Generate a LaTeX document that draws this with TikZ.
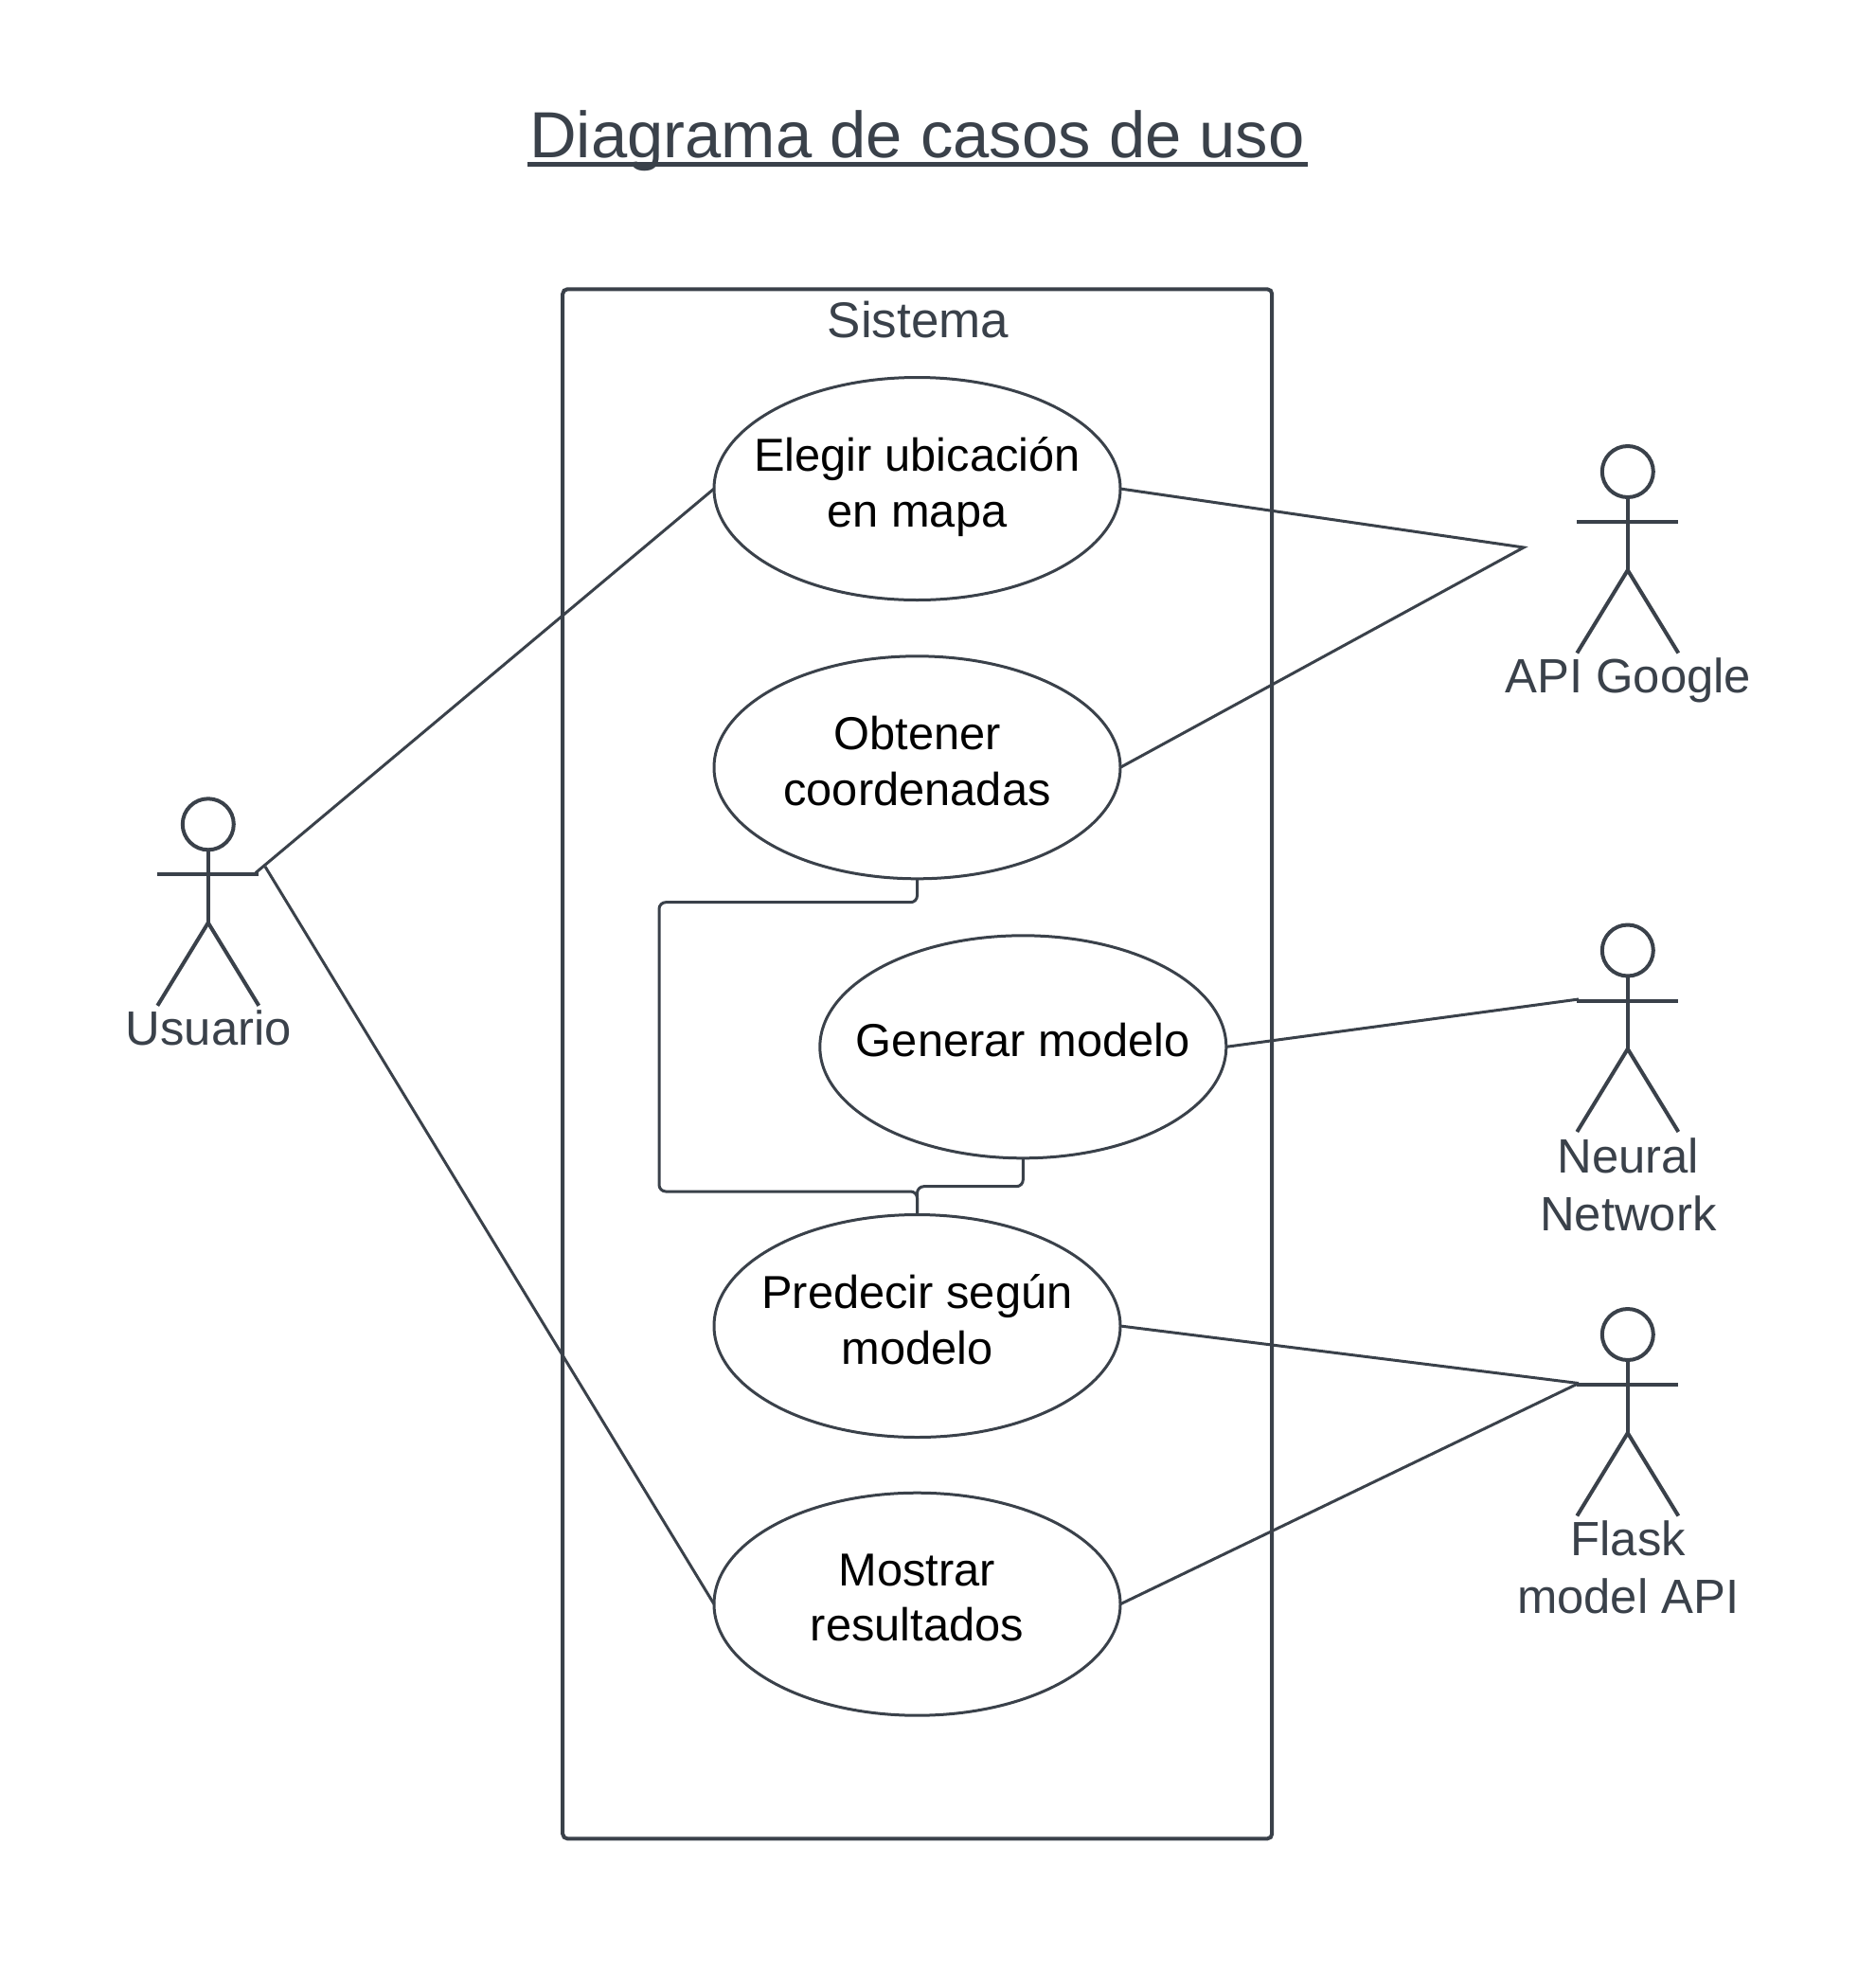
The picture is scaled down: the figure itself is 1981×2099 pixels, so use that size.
\documentclass[tikz,border=0pt]{standalone}
\usepackage{fontspec}
\setmainfont{Liberation Sans}
\usetikzlibrary{shapes.geometric}
\definecolor{ink}{HTML}{3A414A}
\newcommand{\fsz}[2]{\fontsize{#1pt}{#2pt}\selectfont}
\newcommand{\lowstrut}{\rule[-14pt]{0pt}{14pt}}
\tikzset{
  usecase/.style={ellipse,draw=ink,line width=3pt,minimum width=429pt,minimum height=235pt,
    inner sep=-60pt,outer sep=0pt,align=center,text=black,font=\fsz{48.8}{58.8}},
  systembox/.style={rectangle,draw=ink,line width=4pt,minimum width=749pt,minimum height=1636pt,
    rounded corners=5pt,inner sep=0pt,outer sep=0pt},
  link/.style={draw=ink,line width=3pt},
  elbow/.style={draw=ink,line width=3pt,rounded corners=7pt},
  limb/.style={draw=ink,line width=4pt},
  actorhead/.style={circle,draw=ink,line width=4pt,minimum size=54pt,inner sep=0pt,outer sep=0pt},
  actorlabel/.style={text=ink,font=\fsz{50.8}{61},align=center,anchor=base,inner sep=0pt},
  titletext/.style={text=ink,font=\fsz{68.8}{80},anchor=base,inner sep=0pt},
  systemtext/.style={text=ink,font=\fsz{53}{60},anchor=base,inner sep=0pt},
}
% #1 name, #2 x of the body, #3 y of the arms
\newcommand{\stickman}[3]{%
  \node[actorhead] (#1) at (#2,#3-53) {};
  \coordinate (#1armL) at (#2-53.5,#3);
  \coordinate (#1armR) at (#2+53.5,#3);
  \coordinate (#1hip) at (#2,#3+51);
  \coordinate (#1footL) at (#2-53.5,#3+138.5);
  \coordinate (#1footR) at (#2+53.5,#3+138.5);
  \draw[limb] (#1.south) -- (#1hip);
  \draw[limb] (#1armL) -- (#1armR);
  \draw[limb] (#1footL) -- (#1hip) -- (#1footR);
}
\begin{document}
\begin{tikzpicture}[x=1pt,y=-1pt]
\useasboundingbox (0,0) rectangle (1981,2099);
% title
\node[titletext] (title) at (968.5,166) {Diagrama de casos de uso};
\coordinate (ulL) at (556.5,173);
\coordinate (ulR) at (1380.5,173);
\draw[draw=ink,line width=5pt] (ulL) -- (ulR);
% system
\node[systembox] (system) at (968.7,1123.3) {};
\node[systemtext] (systemlabel) at (969.5,356) {Sistema};
% use cases
\node[usecase] (elegir) at (968.5,516) {Elegir ubicación\\en mapa\lowstrut};
\node[usecase] (obtener) at (968.5,810.3) {Obtener\\coordenadas\lowstrut};
\node[usecase] (generar) at (1080.3,1105.3) {Generar modelo\lowstrut};
\node[usecase] (predecir) at (968.5,1400) {Predecir según\\modelo\lowstrut};
\node[usecase] (mostrar) at (968.5,1693.7) {Mostrar\\resultados\lowstrut};
% actors
\stickman{usuario}{219.8}{923.3}
\stickman{google}{1718.8}{551}
\stickman{neural}{1718.8}{1056.5}
\stickman{flask}{1718.8}{1462}
\node[actorlabel] (usuariolabel) at (220.3,1103.7) {Usuario};
\node[actorlabel] (googlelabel) at (1719.3,731) {API Google};
\node[actorlabel] (neurallabel) at (1719.3,1299) {Neural\\Network};
\node[actorlabel] (flasklabel) at (1719.3,1703.7) {Flask\\model API};
% connectors
\coordinate (usuarioUp) at (270,921.5);
\coordinate (usuarioDown) at (280,915);
\coordinate (googleTip) at (1609,578);
\coordinate (neuralTip) at (1667,1055);
\coordinate (flaskTip) at (1667,1460.5);
\draw[link] (usuarioUp) -- (elegir.west);
\draw[link] (usuarioDown) -- (mostrar.west);
\draw[link,line join=miter] (elegir.east) -- (googleTip) -- (obtener.east);
\draw[link] (generar.east) -- (neuralTip);
\draw[link] (predecir.east) -- (flaskTip);
\draw[link] (mostrar.east) -- (flaskTip);
\coordinate (loopTL) at (696,952.7);
\coordinate (loopBL) at (696,1258);
\coordinate (joinT) at (1020,1252.7);
\draw[elbow] (obtener.south) |- (loopTL) -- (loopBL) -| (predecir.north);
\draw[elbow] (generar.south) |- (joinT) -| (predecir.north);
\end{tikzpicture}
\end{document}
